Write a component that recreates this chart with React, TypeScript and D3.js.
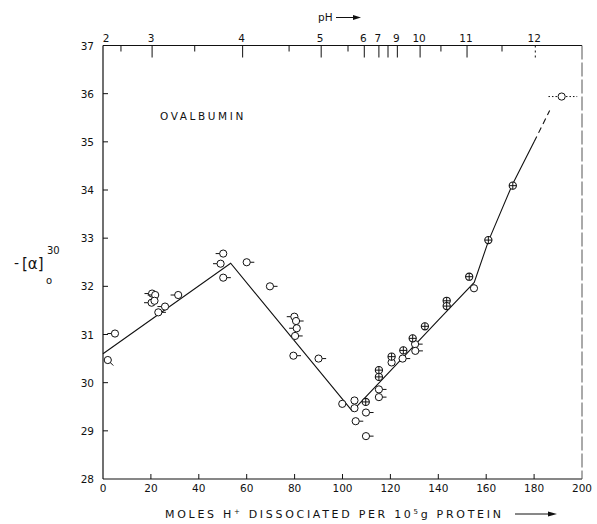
import React from "react";
import * as d3 from "d3";

// ---- data ----
const xTicks = [0, 20, 40, 60, 80, 100, 120, 140, 160, 180, 200];
const yTicks = [28, 29, 30, 31, 32, 33, 34, 35, 36, 37];
// pH ticks on top axis: label, position in moles H+ units, major?
const phLabels = ["2", "", "3", "", "4", "", "5", "", "6", "7", "", "9", "10", "", "11", "", "12"];
const phAt = [0, 7.5, 20.5, 38.3, 58.3, 77.7, 91.1, 102.3, 109.1, 115.2, 119, 122.9, 132.4, 141.1, 152, 166.6, 180.5];
const phMajor = [1, 0, 1, 0, 1, 0, 1, 0, 1, 1, 1, 1, 1, 0, 1, 0, 1];

// open circles: [moles, -[a], flag side]
const openPoints: [number, number, string][] = [
  [2.0, 30.47, "dr"], [5.0, 31.02, "l"],
  [20.5, 31.85, "l"], [21.8, 31.82, "l"], [20.3, 31.66, "l"], [21.5, 31.7, "n"],
  [23.1, 31.46, "r"], [25.9, 31.58, "l"], [31.4, 31.82, "l"],
  [49.1, 32.47, "l"], [50.2, 32.68, "l"], [50.2, 32.18, "r"],
  [60, 32.5, "r"], [69.7, 32.0, "r"],
  [79.9, 31.37, "l"], [80.6, 31.28, "r"], [80.9, 31.13, "l"], [80.2, 30.97, "r"],
  [79.5, 30.56, "r"], [90.0, 30.5, "r"], [99.9, 29.56, "n"],
  [105, 29.63, "n"], [105, 29.47, "n"], [105.5, 29.2, "r"],
  [109.8, 29.38, "r"], [109.8, 28.89, "r"],
  [115.2, 29.86, "r"], [115.2, 29.7, "r"],
  [120.5, 30.42, "n"], [125.1, 30.5, "r"], [130.3, 30.8, "r"], [130.4, 30.66, "r"],
  [154.9, 31.96, "n"], [191.5, 35.94, "n"],
];
// crossed circles
const crossPoints: [number, number][] = [
  [109.7, 29.6], [115.2, 30.26], [115.2, 30.12], [120.5, 30.54], [125.4, 30.67],
  [129.3, 30.92], [134.4, 31.17], [143.5, 31.7], [143.5, 31.59], [152.9, 32.2],
  [160.9, 32.96], [171.1, 34.09],
];
// fitted curve
const solidLine: [number, number][] = [
  [0, 30.6], [53.3, 32.48], [104.1, 29.41], [140, 31.3], [155, 32.08],
  [161, 32.95], [171, 34.12], [180, 35.0],
];
const dashedLine: [number, number][] = [[180, 35.0], [186.5, 35.65]];
const dottedLine: [number, number][] = [[186, 35.94], [198, 35.94]];

const W = 597, H = 524;
const FONT = "DejaVu Sans, sans-serif";

export default function App() {
  const x = d3.scaleLinear().domain([0, 200]).range([103, 582]);
  const y = d3.scaleLinear().domain([28, 37]).range([479, 45.5]);
  const line = d3.line<[number, number]>().x((d) => x(d[0])).y((d) => y(d[1]));
  const r = 3.6;
  const flag = (side: string) => {
    if (side === "r") return [r, 0, r + 4, 0];
    if (side === "l") return [-r, 0, -r - 4, 0];
    if (side === "dr") return [r * 0.7, r * 0.7, r * 0.7 + 3, r * 0.7 + 3];
    return null;
  };
  const x0 = x(0), x1 = x(200), yT = y(37), yB = y(28);
  return (
    <svg width={W} height={H} style={{ position: "absolute", left: 0, top: 0, background: "#fff" }}
      fontFamily={FONT}>
      {/* frame */}
      <line x1={x0} x2={x0} y1={yT} y2={yB} stroke="#111" strokeWidth={1.2} />
      <line x1={x0} x2={x1} y1={yT} y2={yT} stroke="#111" strokeWidth={1.2} />
      <line x1={x0} x2={x1} y1={yB} y2={yB} stroke="#111" strokeWidth={1.2} />
      <line x1={x1} x2={x1} y1={yT} y2={yB} stroke="#555" strokeWidth={1} strokeDasharray="14,3" />
      {/* y ticks */}
      {yTicks.map((t) => (
        <g key={"y" + t}>
          {t > 28 && t < 37 && <line x1={x0} x2={x0 + 5} y1={y(t)} y2={y(t)} stroke="#111" />}
          <text x={x0 - 9} y={y(t) + 4} textAnchor="end" fontSize={10.5} fill="#111">{t}</text>
        </g>
      ))}
      {/* x ticks */}
      {xTicks.map((t) => (
        <g key={"x" + t}>
          {t > 0 && t < 200 && <line x1={x(t)} x2={x(t)} y1={yB} y2={yB - 5} stroke="#111" />}
          <text x={x(t)} y={yB + 13} textAnchor="middle" fontSize={10.5} fill="#111">{t}</text>
        </g>
      ))}
      {/* pH ticks */}
      {phAt.map((p, i) => (
        <g key={"ph" + i}>
          {p > 0 && <line x1={x(p)} x2={x(p)} y1={yT} y2={yT + (phMajor[i] ? 12 : 6)} stroke="#111"
            strokeDasharray={phLabels[i] === "12" ? "2,3" : undefined} />}
          {phLabels[i] && <text x={x(p) + (p === 0 ? 3 : -1)} y={yT - 4} textAnchor="middle" fontSize={10.5} fill="#111">{phLabels[i]}</text>}
        </g>
      ))}
      <text x={318} y={21} fontSize={10.5} fill="#111">pH</text>
      <line x1={336} x2={356} y1={17.5} y2={17.5} stroke="#111" strokeWidth={1} />
      <path d="M361,17.5 L353,15 L353,20 Z" fill="#111" />
      {/* fitted line */}
      <path d={line(solidLine) || ""} fill="none" stroke="#111" strokeWidth={1.1} />
      <path d={line(dashedLine) || ""} fill="none" stroke="#111" strokeWidth={1.1} strokeDasharray="6,4" />
      <path d={line(dottedLine) || ""} fill="none" stroke="#111" strokeWidth={1} strokeDasharray="1.5,2" />
      {/* open points */}
      {openPoints.map((d, i) => {
        const cx = x(d[0]), cy = y(d[1]);
        const f = flag(d[2]);
        return (
          <g key={"o" + i}>
            <circle cx={cx} cy={cy} r={r} fill="#fff" stroke="#111" strokeWidth={1} />
            {f && <line x1={cx + f[0]} y1={cy + f[1]} x2={cx + f[2]} y2={cy + f[3]} stroke="#111" strokeWidth={1} />}
          </g>
        );
      })}
      {/* crossed points */}
      {crossPoints.map((d, i) => {
        const cx = x(d[0]), cy = y(d[1]);
        return (
          <g key={"c" + i}>
            <circle cx={cx} cy={cy} r={r} fill="#fff" stroke="#111" strokeWidth={1.1} />
            <line x1={cx - r} x2={cx + r} y1={cy} y2={cy} stroke="#111" strokeWidth={1} />
            <line x1={cx} x2={cx} y1={cy - r} y2={cy + r} stroke="#111" strokeWidth={1} />
          </g>
        );
      })}
      {/* labels */}
      <text x={160} y={120} fontSize={10.5} letterSpacing={2.6} fill="#111">OVALBUMIN</text>
      <text x={165} y={518} textAnchor="start" fontSize={11} letterSpacing={2.7} fill="#111">
        MOLES H<tspan dy={-4} fontSize={7}>+</tspan><tspan dy={4}> DISSOCIATED PER 10</tspan><tspan dy={-4} fontSize={7}>5</tspan><tspan dy={4}>g  PROTEIN</tspan>
      </text>
      <line x1={515} x2={550} y1={514} y2={514} stroke="#111" />
      <path d="M557,514 L548,511.5 L548,516.5 Z" fill="#111" />
      {/* y label */}
      <text x={14} y={268} fontSize={14} fill="#111">-</text>
      <text x={22} y={269} fontSize={15} fill="#111">[α]</text>
      <text x={47} y={254} fontSize={10} fill="#111">30</text>
      <text x={46} y={284} fontSize={10} fill="#111">o</text>
    </svg>
  );
}
